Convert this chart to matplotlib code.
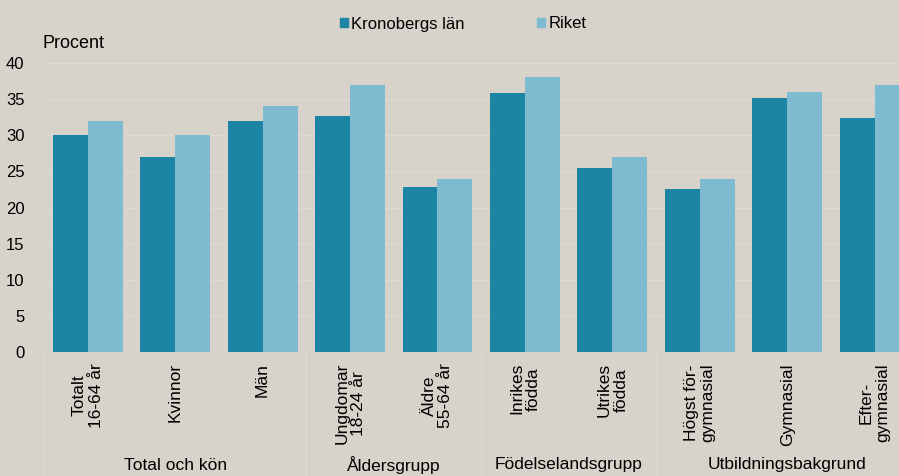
import numpy as np
import matplotlib
matplotlib.use("Agg")
import matplotlib.pyplot as plt
from matplotlib.patches import Patch

categories = ["Totalt\n16-64 år", "Kvinnor", "Män", "Ungdomar\n18-24 år", "Äldre\n55-64 år",
              "Inrikes\nfödda", "Utrikes\nfödda", "Högst för-\ngymnasial", "Gymnasial", "Efter-\ngymnasial"]
kronoberg = [30.0, 27.0, 32.0, 32.7, 22.8, 35.9, 25.5, 22.5, 35.2, 32.4]
riket = [32.0, 30.0, 34.0, 37.0, 24.0, 38.0, 27.0, 24.0, 36.0, 37.0]
groups = ["Total och kön", "Åldersgrupp", "Födelselandsgrupp", "Utbildningsbakgrund"]
group_sizes = [3, 2, 2, 3]

bg = "#d7d2ca"
dark = "#1b85a3"
light = "#7fbbd0"
grid = "#dedad3"

plt.rcParams["font.family"] = ["Liberation Sans", "DejaVu Sans"]

fig = plt.figure(figsize=(8.99, 4.76), dpi=100, facecolor=bg)
W, H = 899, 476
ax = fig.add_axes([44 / W, 1 - 352 / H, 874.4 / W, (352 - 63) / H])
ax.set_facecolor(bg)

x = np.arange(len(categories))
w = 0.4
ax.bar(x - w / 2, kronoberg, w, color=dark, zorder=3)
ax.bar(x + w / 2, riket, w, color=light, zorder=3)

ax.set_xlim(-0.5, len(categories) - 0.5)
ax.set_ylim(0, 40)
ax.set_yticks(range(0, 41, 5))
ax.yaxis.grid(True, color=grid, linewidth=1, zorder=0)
for s in ax.spines.values():
    s.set_visible(False)
ax.tick_params(axis="y", length=0, labelsize=12, pad=14)
ax.tick_params(axis="x", length=0)
ax.set_xticks(x)
ax.set_xticklabels([])

# rotated category labels
for xi, lab in zip(x, categories):
    ax.annotate(lab, xy=(xi, 0), xycoords=("data", "axes fraction"),
                xytext=(0, -8), textcoords="offset points",
                rotation=90, ha="center", va="top", multialignment="center",
                fontsize=12.5, linespacing=1.15)

# group labels and separators
start = 0
for g, n in zip(groups, group_sizes):
    ax.annotate(g, xy=(start + n / 2 - 0.5, 0), xycoords=("data", "axes fraction"),
                xytext=(0, -113 * 72 / 100), textcoords="offset points",
                ha="center", va="center", fontsize=12.5)
    ax.plot([start - 0.5, start - 0.5], [0, -124 / 289], transform=ax.get_xaxis_transform(),
            color=grid, linewidth=1, clip_on=False)
    start += n

fig.text(42 / W, 1 - 43 / H, "Procent", fontsize=13, ha="left", va="center")

handles = [Patch(color=dark, label="Kronobergs län"), Patch(color=light, label="Riket")]
fig.legend(handles=handles, ncol=2, loc="center", bbox_to_anchor=(463 / W, 1 - 24 / H),
           frameon=False, fontsize=12, handlelength=0.5, handleheight=0.5,
           handletextpad=0.2, columnspacing=4.3)

fig.savefig("out.png", dpi=100, facecolor=bg)
